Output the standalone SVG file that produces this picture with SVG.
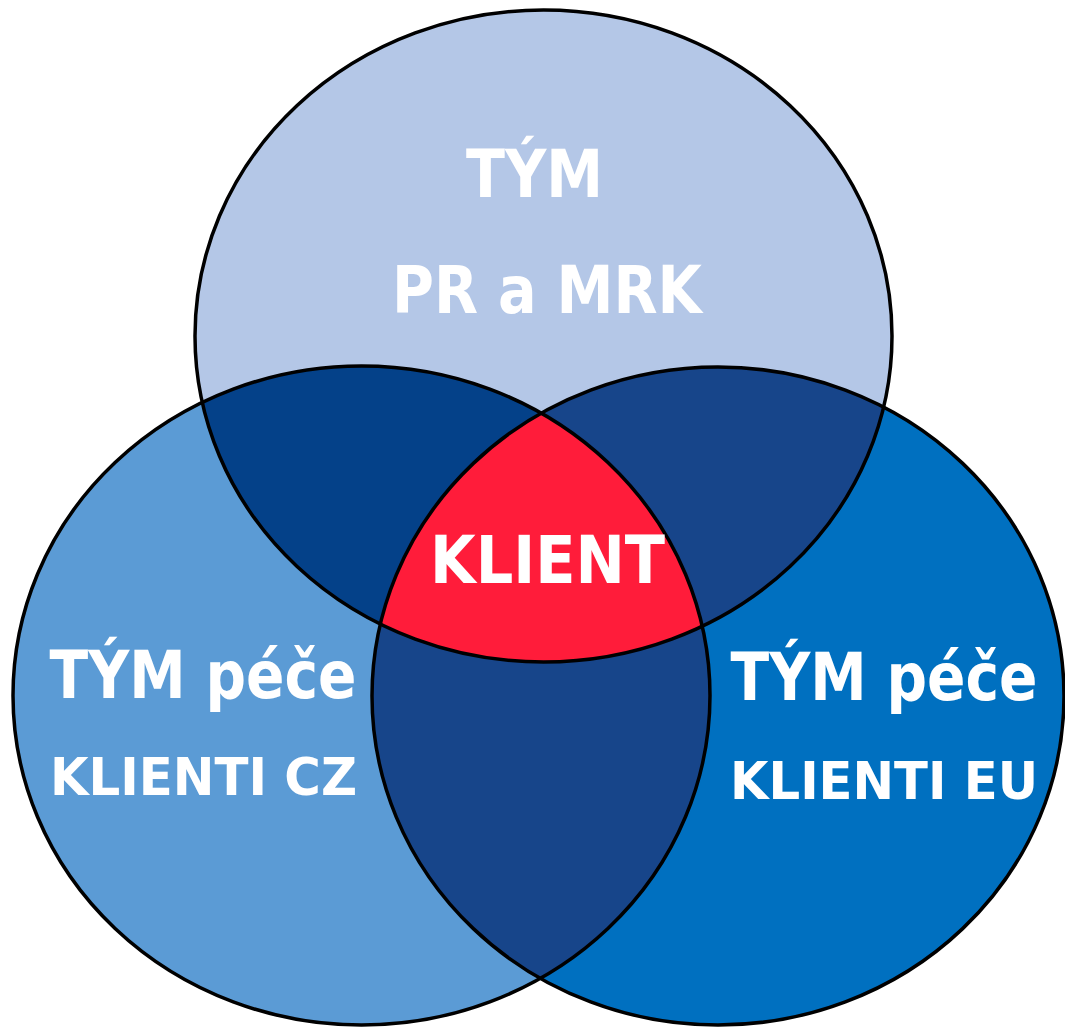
<svg xmlns="http://www.w3.org/2000/svg" width="1065" height="1028" viewBox="0 0 1065 1028">
<style>
.lbl{font-family:"DejaVu Sans","Liberation Sans",sans-serif;font-weight:bold;fill:#FFFFFF;text-anchor:middle}
.big{font-size:65px}
.sm{font-size:52px}
.ol{fill:none;stroke:#000;stroke-width:3.5}
</style>
<defs>
<ellipse id="eT" cx="543.5" cy="336" rx="348.5" ry="326"/>
<ellipse id="eL" cx="361.5" cy="695.5" rx="348.5" ry="329.5"/>
<ellipse id="eR" cx="718" cy="696" rx="346" ry="329"/>
<clipPath id="cT"><use href="#eT"/></clipPath>
<clipPath id="cL"><use href="#eL"/></clipPath>
<clipPath id="cR"><use href="#eR"/></clipPath>
</defs>
<rect width="1065" height="1028" fill="#FFFFFF"/>
<g id="node-top"><use href="#eT" fill="#B4C7E7"/></g>
<g id="node-left"><use href="#eL" fill="#5B9BD5"/></g>
<g id="node-right"><use href="#eR" fill="#0070C0"/></g>
<g id="overlap-top-left" clip-path="url(#cT)"><use href="#eL" fill="#044189"/></g>
<g id="overlap-top-right" clip-path="url(#cT)"><use href="#eR" fill="#17458A"/></g>
<g id="overlap-left-right" clip-path="url(#cL)"><use href="#eR" fill="#17458A"/></g>
<g id="node-center" clip-path="url(#cT)"><g clip-path="url(#cL)"><use href="#eR" fill="#FF1C3A"/></g></g>
<g id="outlines">
<use href="#eT" class="ol"/>
<use href="#eL" class="ol"/>
<use href="#eR" class="ol"/>
</g>
<g id="labels">
<text class="lbl big" x="534.5" y="197" textLength="137" lengthAdjust="spacingAndGlyphs">TÝM</text>
<text class="lbl big" x="547" y="313" textLength="310" lengthAdjust="spacingAndGlyphs">PR a MRK</text>
<text class="lbl big" x="547.5" y="583" textLength="235" lengthAdjust="spacingAndGlyphs">KLIENT</text>
<text class="lbl big" x="203" y="698" textLength="307" lengthAdjust="spacingAndGlyphs">TÝM péče</text>
<text class="lbl sm" x="203.5" y="795" textLength="307" lengthAdjust="spacingAndGlyphs">KLIENTI CZ</text>
<text class="lbl big" x="884" y="700" textLength="307" lengthAdjust="spacingAndGlyphs">TÝM péče</text>
<text class="lbl sm" x="884" y="799" textLength="308" lengthAdjust="spacingAndGlyphs">KLIENTI EU</text>
</g>
</svg>
